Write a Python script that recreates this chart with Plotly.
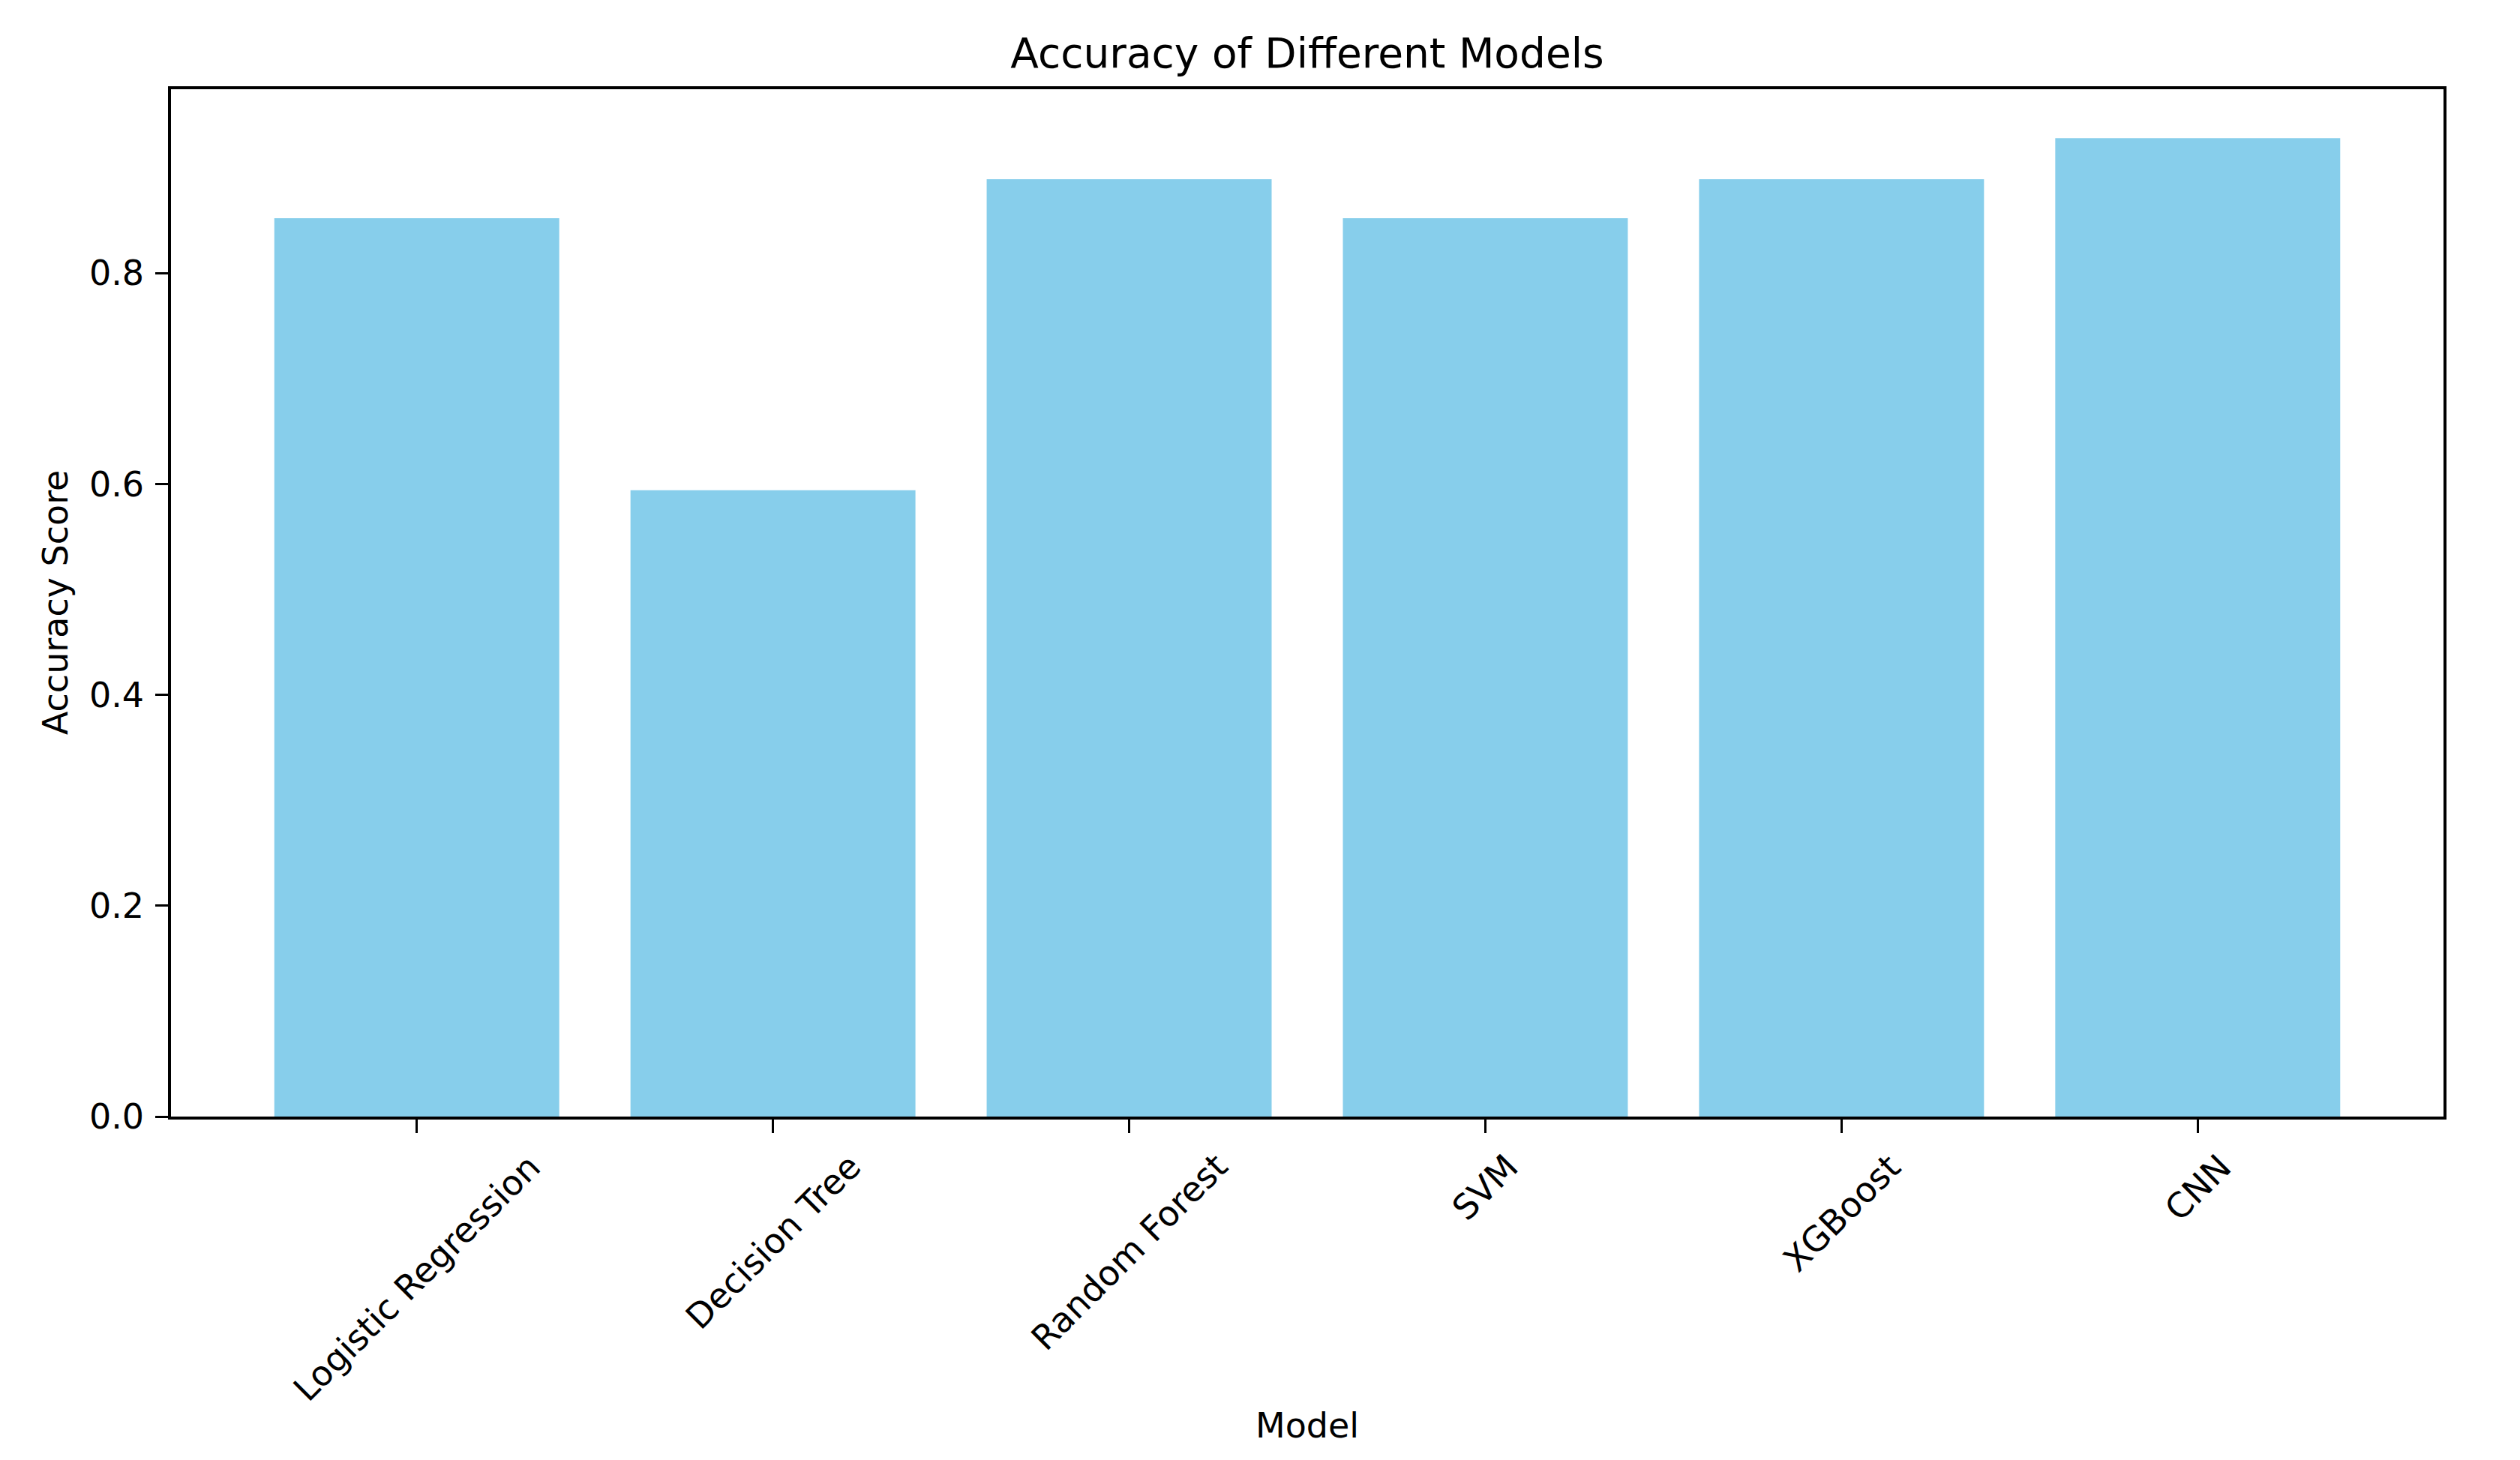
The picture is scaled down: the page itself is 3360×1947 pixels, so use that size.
import plotly.graph_objects as go

models = ["Logistic Regression", "Decision Tree", "Random Forest", "SVM", "XGBoost", "CNN"]
accuracy = [0.852, 0.594, 0.889, 0.852, 0.889, 0.928]
y_ticks = [0.0, 0.2, 0.4, 0.6, 0.8]
y_tick_text = ["0.0", "0.2", "0.4", "0.6", "0.8"]

FONT = "DejaVu Sans"
TXT = "#000000"
W, H = 3352, 1939  # page body has an 8px margin

fig = go.Figure()
fig.add_trace(go.Bar(x=models, y=accuracy, width=0.8,
                     marker=dict(color="#87CEEB", line=dict(width=0)),
                     showlegend=False))

ymax = max(accuracy) * 1.05
n = len(models)

annotations = []
for m in models:
    annotations.append(dict(x=m, xref="x", y=0, yref="paper", yshift=-37,
                            text=m, showarrow=False, textangle=-45,
                            xanchor="center", yanchor="top",
                            font=dict(family=FONT, size=46, color=TXT)))
annotations.append(dict(x=0.5, xref="paper", y=-0.3007, yref="paper",
                        text="Model", showarrow=False, xanchor="center", yanchor="middle",
                        font=dict(family=FONT, size=46, color=TXT)))
annotations.append(dict(x=-0.0508, xref="paper", y=0.5, yref="paper",
                        text="Accuracy Score", showarrow=False, textangle=-90,
                        xanchor="center", yanchor="middle",
                        font=dict(family=FONT, size=46, color=TXT)))

fig.update_layout(
    width=W, height=H,
    margin=dict(l=220, r=102, t=111, b=458, pad=0),
    paper_bgcolor="white", plot_bgcolor="white",
    font=dict(family=FONT, size=46, color=TXT),
    title=dict(text="Accuracy of Different Models", x=(220 + W - 102) / 2 / W, xanchor="center",
               xref="container", yref="container", y=1 - 63 / H, yanchor="middle",
               font=dict(family=FONT, size=55, color=TXT)),
    bargap=0.2,
    annotations=annotations,
)
fig.update_xaxes(range=[-0.69, n - 1 + 0.69], showticklabels=False,
                 ticks="outside", ticklen=18, tickwidth=3, tickcolor=TXT,
                 showline=True, linecolor=TXT, linewidth=3.5, mirror=True,
                 showgrid=False, zeroline=False)
fig.update_yaxes(range=[0, ymax], tickvals=y_ticks, ticktext=y_tick_text,
                 ticks="outside", ticklen=17, tickwidth=3, tickcolor=TXT,
                 tickfont=dict(family=FONT, size=46, color=TXT), ticklabelstandoff=6,
                 showline=True, linecolor=TXT, linewidth=3.5, mirror=True,
                 showgrid=False, zeroline=False)

fig.write_html("out.html")
